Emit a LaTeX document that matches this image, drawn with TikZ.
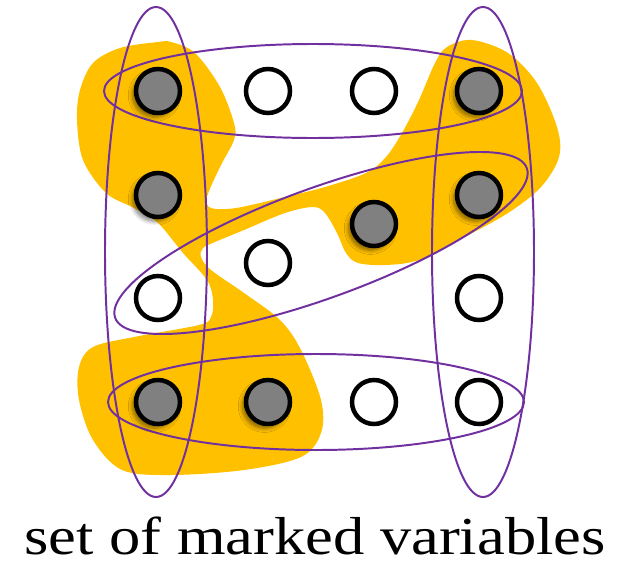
\documentclass[tikz,border=0pt]{standalone}
\usepackage{fontspec}
\setmainfont{Liberation Serif}
\usepackage{tikz}
\usetikzlibrary{shadows.blur}
\usepackage{xcolor}
\definecolor{setpurple}{RGB}{112,48,160}
\definecolor{markgold}{RGB}{255,192,0}
\definecolor{markgray}{RGB}{128,128,128}

\begin{document}
\begin{tikzpicture}[
    x=0.025cm,y=0.025cm,
    var/.style={draw,circle,line width=3.2pt,minimum size=1.1cm,inner sep=0pt,fill=white},
    marked/.style={var,fill=markgray,blur shadow={shadow xshift=-2.5pt,shadow yshift=-3pt,shadow blur steps=6,shadow blur radius=3pt,shadow opacity=50}},
    setline/.style={draw=setpurple,line width=1.4pt}
]
\useasboundingbox (0,0) rectangle (634,-573);
% marked region
\fill[markgold] plot[smooth cycle,tension=0.55] coordinates {
    (158,-42) (120,-48) (93,-63) (80,-90) (77,-120) (83,-160) (106,-193) (134,-208)
    (158,-223) (183,-253) (207,-280) (213,-300) (211,-317) (199,-325) (134,-337)
    (93,-347) (79,-367) (79,-400) (93,-440) (122,-470) (171,-475) (244,-470)
    (301,-457) (321,-433) (321,-400) (301,-350) (280,-320) (244,-293) (211,-270)
    (201,-257) (203,-248) (215,-242) (244,-230) (285,-213) (313,-207) (325,-213)
    (337,-233) (346,-253) (358,-263) (386,-265) (419,-260) (459,-240) (508,-213)
    (541,-187) (559,-157) (557,-127) (537,-83) (508,-53) (472,-40) (447,-47)
    (435,-63) (419,-100) (402,-133) (386,-157) (366,-173) (325,-187) (285,-197)
    (236,-208) (211,-208) (207,-197) (220,-167) (234,-140) (234,-123) (220,-87)
    (195,-53) (171,-42)};

% sets
\draw[setline] (156,-252) ellipse [x radius=51,y radius=245];
\draw[setline] (483,-252) ellipse [x radius=51,y radius=245];
\draw[setline] (313,-91) ellipse [x radius=209,y radius=47];
\draw[setline] (316,-402) ellipse [x radius=208,y radius=48];
\draw[setline,rotate around={20:(321,-243)}] (321,-243) ellipse [x radius=219,y radius=55];

% variables
\node[marked] (a1) at (158,-91) {};
\node[var] (a2) at (268,-91) {};
\node[var] (a3) at (374,-91) {};
\node[marked] (a4) at (479,-91) {};
\node[marked] (b1) at (158,-195) {};
\node[marked] (b3) at (374,-224) {};
\node[marked] (b4) at (479,-195) {};
\node[var] (c2) at (268,-263) {};
\node[var] (c1) at (158,-298) {};
\node[var] (c4) at (479,-298) {};
\node[marked] (d1) at (158,-402) {};
\node[marked] (d2) at (268,-402) {};
\node[var] (d3) at (374,-402) {};
\node[var] (d4) at (479,-402) {};

\node[anchor=base,xscale=1.17,transform shape,font=\fontsize{38}{44}\selectfont] (caption) at (315,-554) {set of marked variables};
\end{tikzpicture}
\end{document}
